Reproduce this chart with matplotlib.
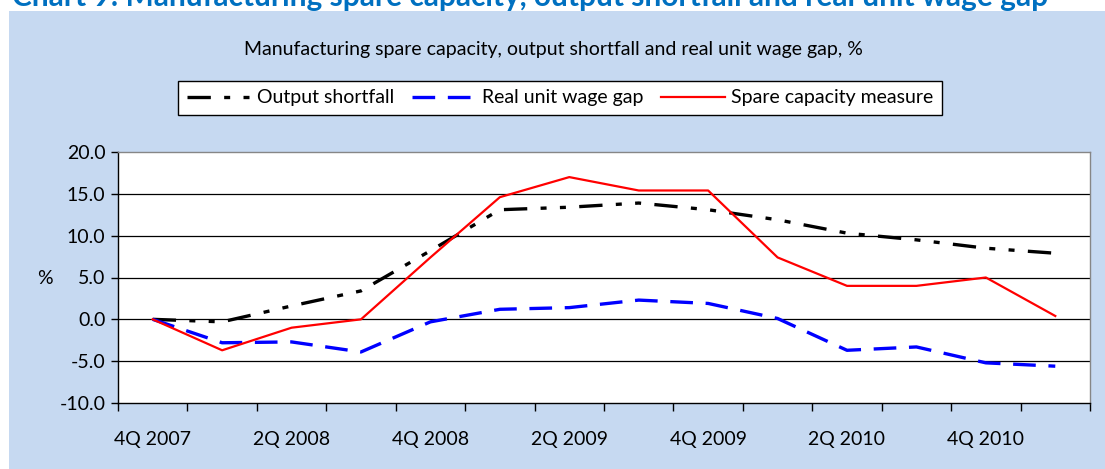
import matplotlib
matplotlib.use("Agg")
import matplotlib.pyplot as plt
from matplotlib.patches import Rectangle

categories = ["4Q 2007", "1Q 2008", "2Q 2008", "3Q 2008", "4Q 2008", "1Q 2009", "2Q 2009",
              "3Q 2009", "4Q 2009", "1Q 2010", "2Q 2010", "3Q 2010", "4Q 2010", "1Q 2011"]
output_shortfall = [0.0, -0.3, 1.6, 3.4, 8.2, 13.1, 13.4, 13.9, 13.1, 11.9, 10.3, 9.5, 8.5, 7.9]
real_unit_wage_gap = [0.0, -2.8, -2.7, -3.9, -0.3, 1.2, 1.4, 2.3, 1.9, 0.1, -3.7, -3.3, -5.2, -5.6]
spare_capacity = [0.0, -3.7, -1.0, 0.0, 7.4, 14.6, 17.0, 15.4, 15.4, 7.4, 4.0, 4.0, 5.0, 0.4]
yticks = [-10, -5, 0, 5, 10, 15, 20]

FONT = "Lato"
FS = 14
W, H = 1105, 469
fig = plt.figure(figsize=(W / 100, H / 100), dpi=100)
fig.patch.set_facecolor("white")

# blue panel
fig.patches.append(Rectangle((9 / W, 0), 1 - 9 / W, (H - 11) / H, transform=fig.transFigure,
                             facecolor="#C6D9F1", edgecolor="none", zorder=-10))

# cut-off title (as in the reference)
fig.text(12 / W, 1 - 6 / H, "Chart 9: Manufacturing spare capacity, output shortfall and real unit wage gap",
         fontsize=21.5, fontweight="bold", color="#0070C0", family=FONT, va="baseline", ha="left")

fig.text(553 / W, 1 - 49 / H, "Manufacturing spare capacity, output shortfall and real unit wage gap, %",
         fontsize=FS, family=FONT, ha="center", va="center", color="black")

ax = fig.add_axes([118 / W, (H - 403) / H, 972 / W, 251 / H])
ax.set_zorder(1)
ax.set_facecolor("white")
x = list(range(len(categories)))

ax.plot(x, output_shortfall, color="black", lw=2.4, dashes=(7.0, 4.0, 1.8, 4.0, 1.8, 4.0),
        label="Output shortfall", zorder=3)
ax.plot(x, real_unit_wage_gap, color="#0000FF", lw=2.4, dashes=(6.8, 3.8),
        label="Real unit wage gap", zorder=3)
ax.plot(x, spare_capacity, color="#FF0000", lw=1.6, label="Spare capacity measure", zorder=4)

ax.set_xlim(-0.5, len(categories) - 0.5)
ax.set_ylim(-10, 20)
ax.set_yticks(yticks)
ax.set_yticklabels([f"{v:.1f}" for v in yticks], family=FONT, fontsize=FS)
for v in yticks[1:-1]:
    ax.axhline(v, color="#000000", lw=0.9, zorder=1)

ax.set_xticks([i - 0.5 for i in range(len(categories) + 1)])
ax.set_xticklabels([])
ax.set_xticks(x[::2], minor=True)
ax.set_xticklabels(categories[::2], minor=True, family=FONT, fontsize=FS)
ax.tick_params(axis="x", which="major", direction="out", length=6, width=1, color="black")
ax.tick_params(axis="x", which="minor", length=0, pad=20)
ax.tick_params(axis="y", direction="out", length=5, width=1, color="black", pad=4)

for s in ["left", "bottom"]:
    ax.spines[s].set_color("black")
    ax.spines[s].set_linewidth(1)
for s in ["top", "right"]:
    ax.spines[s].set_color("#868686")
    ax.spines[s].set_linewidth(1)

ax.set_ylabel("%", rotation=0, family=FONT, fontsize=FS, va="center", ha="center")
ax.yaxis.set_label_coords(-73 / 972, (403 - 279) / 251)

leg = fig.legend(loc="center", bbox_to_anchor=(560 / W, 1 - 98 / H), ncol=3, frameon=True,
                 fancybox=False, edgecolor="black", prop={"family": FONT, "size": FS},
                 handlelength=3.3, handletextpad=0.3, columnspacing=0.9, borderpad=0.45,
                 borderaxespad=0)
leg.get_frame().set_linewidth(1)
leg.get_frame().set_facecolor("white")
leg.get_frame().set_alpha(1)

fig.savefig("out.png", dpi=100, facecolor=fig.get_facecolor())
